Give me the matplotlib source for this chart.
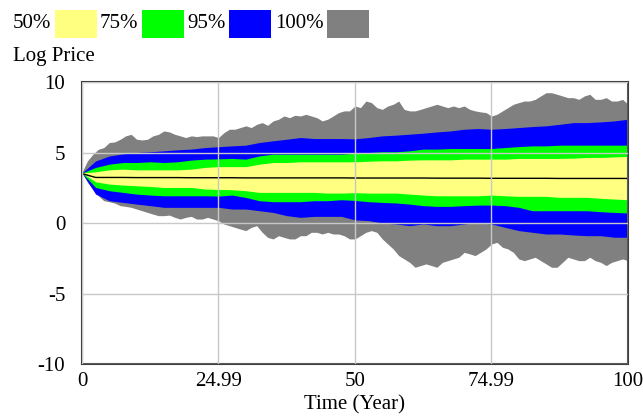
import matplotlib
matplotlib.use("Agg")
import matplotlib.pyplot as plt
from matplotlib.patches import Rectangle
import numpy as np

# inner bands sampled every 2.5 years, outer (100%) band every year
years = np.arange(0, 100.01, 2.5)
years_fine = np.arange(0, 101, 1)

gray_top = [3.60, 4.41, 4.88, 5.23, 5.35, 5.71, 5.75, 5.94, 6.18, 6.29,
            5.94, 5.89, 5.94, 6.18, 6.29, 6.53, 6.46, 6.29, 6.18, 6.06,
            6.18, 6.13, 6.18, 6.18, 6.18, 6.06, 6.41, 6.65, 6.65, 6.77,
            6.89, 6.77, 7.00, 7.12, 6.93, 7.24, 7.36, 7.59, 7.47, 7.64,
            7.59, 7.71, 7.59, 7.47, 7.24, 7.36, 7.59, 7.83, 7.95, 7.95,
            8.30, 8.18, 8.65, 8.54, 8.18, 8.06, 8.30, 8.42, 8.65, 8.06,
            7.95, 7.95, 8.06, 8.18, 8.30, 8.42, 8.30, 8.18, 8.30, 8.18,
            8.30, 8.06, 7.95, 7.88, 7.83, 7.59, 7.71, 7.95, 8.18, 8.42,
            8.54, 8.65, 8.65, 8.77, 9.01, 9.24, 9.24, 9.13, 9.01, 8.89,
            8.89, 8.77, 9.01, 9.13, 8.77, 8.77, 8.89, 8.65, 8.65, 8.77, 8.42]
gray_bottom = [3.60, 2.88, 2.40, 1.93, 1.58, 1.51, 1.41, 1.23, 1.18, 1.11,
               0.99, 0.87, 0.75, 0.63, 0.52, 0.52, 0.56, 0.40, 0.28, 0.40,
               0.47, 0.28, 0.28, 0.40, 0.28, 0.16, -0.07, -0.19, -0.31, -0.43,
               -0.54, -0.31, -0.19, -0.66, -1.02, -1.13, -0.90, -1.02, -1.13, -1.13,
               -0.90, -0.90, -0.66, -0.66, -0.78, -0.66, -0.78, -0.78, -0.90, -1.13,
               -1.13, -0.90, -0.66, -0.54, -0.66, -1.13, -1.49, -1.84, -2.31, -2.55,
               -2.79, -3.14, -3.02, -2.90, -3.02, -3.14, -2.79, -2.67, -2.55, -2.43,
               -2.08, -2.19, -2.31, -2.08, -1.84, -1.49, -1.37, -1.72, -1.84, -2.08,
               -2.55, -2.67, -2.55, -2.43, -2.67, -2.90, -3.14, -3.14, -2.79, -2.43,
               -2.55, -2.67, -2.67, -2.43, -2.67, -2.79, -3.02, -2.79, -2.67, -2.55, -2.67]

blue_top = [3.55, 4.40, 4.75, 4.90, 5.00, 5.05, 5.12, 5.19, 5.24, 5.35,
            5.41, 5.47, 5.52, 5.71, 5.83, 5.94, 6.06, 5.99, 5.99, 5.99,
            5.97, 6.06, 6.18, 6.23, 6.30, 6.37, 6.46, 6.53, 6.65, 6.70,
            6.65, 6.70, 6.77, 6.84, 6.89, 7.00, 7.12, 7.12, 7.17, 7.24, 7.36]
green_top = [3.55, 3.94, 4.17, 4.29, 4.29, 4.34, 4.29, 4.34, 4.46, 4.53,
             4.55, 4.58, 4.53, 4.76, 4.88, 4.88, 4.88, 4.88, 4.88, 4.88,
             4.95, 5.00, 5.05, 5.05, 5.12, 5.24, 5.24, 5.28, 5.28, 5.28,
             5.28, 5.35, 5.42, 5.47, 5.47, 5.52, 5.52, 5.52, 5.52, 5.52, 5.52]
yellow_top = [3.55, 3.63, 3.77, 3.82, 3.77, 3.77, 3.77, 3.77, 3.82, 3.94,
              4.00, 4.00, 4.00, 4.17, 4.29, 4.29, 4.34, 4.34, 4.34, 4.34,
              4.34, 4.38, 4.41, 4.41, 4.46, 4.48, 4.48, 4.48, 4.53, 4.53,
              4.53, 4.53, 4.58, 4.58, 4.58, 4.58, 4.60, 4.65, 4.65, 4.69, 4.72]
median = [3.50, 3.23, 3.23, 3.23, 3.22, 3.22, 3.22, 3.22, 3.21, 3.21,
          3.21, 3.21, 3.20, 3.20, 3.20, 3.20, 3.20, 3.20, 3.20, 3.20,
          3.19, 3.19, 3.19, 3.19, 3.19, 3.19, 3.18, 3.18, 3.18, 3.18,
          3.17, 3.17, 3.17, 3.17, 3.17, 3.16, 3.16, 3.16, 3.16, 3.16, 3.16]
yellow_bottom = [3.55, 2.92, 2.76, 2.69, 2.64, 2.59, 2.52, 2.52, 2.52, 2.41,
                 2.38, 2.36, 2.29, 2.17, 2.17, 2.17, 2.17, 2.17, 2.12, 2.12,
                 2.15, 2.12, 2.12, 2.12, 2.05, 1.98, 1.93, 1.93, 1.93, 1.93,
                 1.98, 1.93, 1.89, 1.89, 1.89, 1.82, 1.82, 1.82, 1.75, 1.70, 1.65]
green_bottom = [3.55, 2.52, 2.29, 2.17, 2.05, 1.98, 1.93, 1.93, 1.93, 1.93,
                1.91, 1.98, 1.81, 1.58, 1.51, 1.51, 1.51, 1.58, 1.58, 1.65,
                1.60, 1.51, 1.46, 1.42, 1.34, 1.23, 1.18, 1.18, 1.23, 1.27,
                1.27, 1.23, 1.11, 0.87, 0.87, 0.87, 0.87, 0.87, 0.80, 0.75, 0.71]
blue_bottom = [3.55, 2.05, 1.58, 1.46, 1.34, 1.23, 1.11, 1.11, 1.11, 1.11,
               1.11, 0.99, 0.99, 0.87, 0.75, 0.52, 0.40, 0.47, 0.47, 0.47,
               0.22, 0.17, 0.00, -0.07, -0.19, -0.07, -0.19, -0.19, -0.07, 0.04,
               -0.07, -0.31, -0.54, -0.66, -0.78, -0.78, -0.85, -0.90, -0.90, -1.01, -1.01]

band_labels = ["50%", "75%", "95%", "100%"]
band_colors = ["#FFFF80", "#00FF00", "#0000FF", "#808080"]

x_ticks = [0, 24.99, 50, 74.99, 100]
x_tick_labels = ["0", "24.99", "50", "74.99", "100"]
y_ticks = [-10, -5, 0, 5, 10]

plt.rcParams["font.family"] = ["Liberation Serif", "DejaVu Serif"]
plt.rcParams["font.size"] = 15
plt.rcParams["axes.unicode_minus"] = False

W, H = 643, 419
fig = plt.figure(figsize=(W / 100, H / 100), dpi=100)
ax = fig.add_axes([82 / W, 1 - 364 / H, 546 / W, 282 / H])

# outermost band first, inner bands on top
ax.fill_between(years_fine, gray_bottom, gray_top, color=band_colors[3], linewidth=0, zorder=1)
ax.fill_between(years, blue_bottom, blue_top, color=band_colors[2], linewidth=0, zorder=1)
ax.fill_between(years, green_bottom, green_top, color=band_colors[1], linewidth=0, zorder=1)
ax.fill_between(years, yellow_bottom, yellow_top, color=band_colors[0], linewidth=0, zorder=1)
ax.plot(years, median, color="black", linewidth=1.0, zorder=2)

ax.set_xlim(0, 100)
ax.set_ylim(-10, 10)
ax.set_xticks(x_ticks)
ax.set_xticklabels(x_tick_labels)
ax.set_yticks(y_ticks)
ax.tick_params(axis="both", length=0)
ax.tick_params(axis="y", pad=12)
ax.tick_params(axis="x", pad=6)
ax.grid(True, color="#C8C8C8", linewidth=1.0, zorder=3)
ax.set_axisbelow(False)
for spine in ax.spines.values():
    spine.set_color("#404040")
    spine.set_linewidth(1.5)
ax.set_xlabel("Time (Year)", labelpad=3)

# legend row across the top
text_x = [13, 100, 187, 275]
patch_x = [55, 142, 229, 327]
for label, color, tx, px in zip(band_labels, band_colors, text_x, patch_x):
    fig.text(tx / W, 1 - 24 / H, label, va="center", ha="left")
    fig.add_artist(Rectangle((px / W, 1 - 38 / H), 42 / W, 28 / H,
                             transform=fig.transFigure, facecolor=color,
                             edgecolor="none"))

fig.text(13 / W, 1 - 56 / H, "Log Price", va="center", ha="left")

fig.savefig("out.png", dpi=100)
